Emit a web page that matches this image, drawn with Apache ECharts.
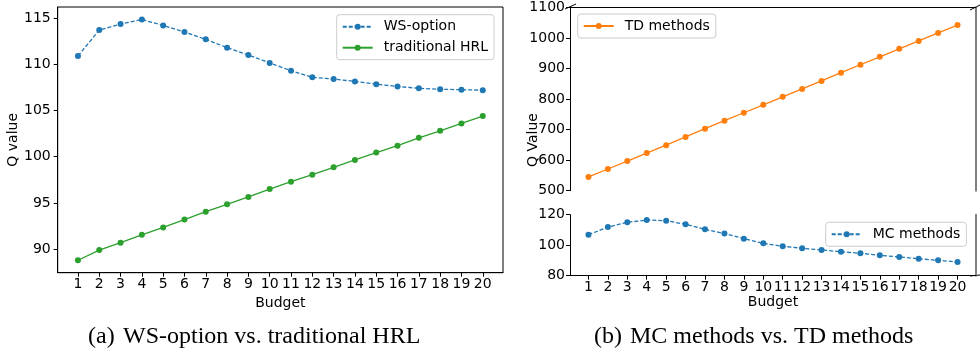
<!DOCTYPE html>
<html>
<head>
<meta charset="utf-8">
<script src="https://cdn.jsdelivr.net/npm/echarts@6/dist/echarts.min.js"></script>
<style>
  html, body { margin: 0; padding: 0; background: #fff; }
  #chart { width: 980px; height: 353px; }
</style>
</head>
<body>
<div id="chart"></div>
<script>
// budgets on the x axis (both panels)
const budgets = [1, 2, 3, 4, 5, 6, 7, 8, 9, 10, 11, 12, 13, 14, 15, 16, 17, 18, 19, 20];

// (a) WS-option vs. traditional HRL
const wsOption = [110.9, 113.7, 114.35, 114.85, 114.2, 113.5, 112.7, 111.8, 111.0, 110.15,
                  109.3, 108.6, 108.4, 108.15, 107.85, 107.6, 107.4, 107.3, 107.25, 107.2];
const tradHRL = [88.8, 89.9, 90.7, 91.55, 92.35, 93.2, 94.05, 94.85, 95.65, 96.5,
                 97.3, 98.05, 98.85, 99.65, 100.45, 101.2, 102.05, 102.8, 103.6, 104.4];
const leftTicks = [90, 95, 100, 105, 110, 115];

// (b) MC methods vs. TD methods (broken y axis)
const tdMethods = [545, 571, 597, 623, 649, 676, 703, 729, 755, 781,
                   807, 833, 859, 886, 912, 938, 964, 990, 1016, 1042];
const mcMethods = [106.9, 111.9, 115.0, 116.5, 116.1, 113.7, 110.4, 107.6, 104.3, 101.2,
                   99.3, 98.0, 96.9, 95.7, 94.7, 93.4, 92.3, 91.1, 90.1, 89.0];
const tdTicks = [500, 600, 700, 800, 900, 1000, 1100];
const mcTicks = [80, 100, 120];

const FONT = 'DejaVu Sans';
const SERIF = 'Liberation Serif';
const BLUE = '#1f77b4', ORANGE = '#ff7f0e', GREEN = '#2ca02c';

const pairs = vals => vals.map((v, i) => [budgets[i], v]);

const chart = echarts.init(document.getElementById('chart'), null, { renderer: 'canvas' });

function xAxisBase(grid, withLabels) {
    return {
        type: 'value', gridIndex: grid, min: 0.05, max: 20.95,
        axisLine: { show: true, lineStyle: { color: '#000', width: 1 } },
        axisTick: { show: withLabels, length: 4, customValues: budgets, lineStyle: { color: '#000' } },
        axisLabel: { show: withLabels, customValues: budgets, margin: 5, color: '#000',
                     fontFamily: FONT, fontSize: 14, formatter: v => String(v) },
        splitLine: { show: false }
    };
}

function yAxisBase(grid, min, max, ticks, margin) {
    return {
        type: 'value', gridIndex: grid, min: min, max: max,
        axisLine: { show: true, lineStyle: { color: '#000', width: 1 } },
        axisTick: { show: true, length: 4, customValues: ticks, lineStyle: { color: '#000' } },
        axisLabel: { customValues: ticks, margin: margin, color: '#000', fontFamily: FONT, fontSize: 14,
                     formatter: v => String(v) },
        splitLine: { show: false }
    };
}

function rightSpine(grid, min, max) {
    return {
        type: 'value', gridIndex: grid, min: min, max: max, position: 'right',
        axisLine: { show: true, lineStyle: { color: '#808080', width: 2 } },
        axisTick: { show: false }, axisLabel: { show: false }, splitLine: { show: false }
    };
}

function legendBox(names, left, top) {
    return {
        data: names, orient: 'vertical', left: left, top: top,
        padding: [4, 6, 4, 5], itemGap: 5, itemWidth: 30, itemHeight: 7.5,
        backgroundColor: 'rgba(255,255,255,0.8)', borderColor: '#cccccc', borderWidth: 1, borderRadius: 3,
        textStyle: { fontFamily: FONT, fontSize: 14, color: '#000', lineHeight: 16, padding: [0, 0, 0, 6] }
    };
}

function lineSeries(name, vals, color, dashed, xi, yi) {
    return {
        name: name, type: 'line', xAxisIndex: xi, yAxisIndex: yi,
        data: pairs(vals), symbol: 'circle', symbolSize: 6, showSymbol: true,
        itemStyle: { color: color },
        lineStyle: { color: color, width: 1.3, type: dashed ? [4, 2] : 'solid' },
        emphasis: { disabled: true }, animation: false
    };
}

const option = {
    backgroundColor: '#fff',
    animation: false,
    grid: [
        { left: 57.7, top: 7, width: 445.3, height: 265.7, show: true, borderColor: '#000', borderWidth: 1,
          outerBoundsMode: 'none' },
        { left: 570, top: 7.3, width: 406, height: 183.4, outerBoundsMode: 'none' },
        { left: 570, top: 214.7, width: 406, height: 61, outerBoundsMode: 'none' }
    ],
    xAxis: [
        Object.assign(xAxisBase(0, true), { name: 'Budget', nameLocation: 'middle', nameGap: 22,
            nameTextStyle: { fontFamily: FONT, fontSize: 14, color: '#000', verticalAlign: 'top' } }),
        Object.assign(xAxisBase(1, false), { position: 'top' }),
        Object.assign(xAxisBase(2, true), { name: 'Budget', nameLocation: 'middle', nameGap: 20,
            nameTextStyle: { fontFamily: FONT, fontSize: 14, color: '#000', verticalAlign: 'top' } })
    ],
    yAxis: [
        Object.assign(yAxisBase(0, 87.45, 116.2, leftTicks, 7), { name: 'Q value', nameLocation: 'middle',
            nameGap: 36, nameTextStyle: { fontFamily: FONT, fontSize: 14, color: '#000' } }),
        yAxisBase(1, 500, 1100, tdTicks, 5),
        rightSpine(1, 500, 1100),
        yAxisBase(2, 80, 120, mcTicks, 5),
        rightSpine(2, 80, 120)
    ],
    legend: [
        legendBox(['WS-option', 'traditional HRL'], 336.7, 14.7),
        legendBox(['TD methods'], 577.7, 14),
        legendBox(['MC methods'], 825.7, 222.3)
    ],
    series: [
        lineSeries('WS-option', wsOption, BLUE, true, 0, 0),
        lineSeries('traditional HRL', tradHRL, GREEN, false, 0, 0),
        lineSeries('TD methods', tdMethods, ORANGE, false, 1, 1),
        lineSeries('MC methods', mcMethods, BLUE, true, 2, 3)
    ],
    graphic: [
        // y label of the broken axis, centred over both panels
        { type: 'text', x: 533, y: 140, rotation: Math.PI / 2,
          style: { text: 'Q Value', fontFamily: FONT, fontSize: 14, fill: '#000', align: 'center', verticalAlign: 'middle' } },
        // break marks
        { type: 'line', shape: { x1: 565, y1: 9, x2: 576, y2: 4 }, style: { stroke: '#000', lineWidth: 1 } },
        { type: 'line', shape: { x1: 970, y1: 10, x2: 980, y2: 5 }, style: { stroke: '#000', lineWidth: 1 } },
        { type: 'line', shape: { x1: 970, y1: 276, x2: 980, y2: 275 }, style: { stroke: '#000', lineWidth: 1 } },
        // captions
        { type: 'text', x: 88, y: 337,
          style: { text: '(a)', fontFamily: SERIF, fontSize: 24, fill: '#000', align: 'left', verticalAlign: 'middle' } },
        { type: 'text', x: 123, y: 337,
          style: { text: 'WS-option vs. traditional HRL', fontFamily: SERIF, fontSize: 24, fill: '#000', align: 'left', verticalAlign: 'middle' } },
        { type: 'text', x: 594, y: 337,
          style: { text: '(b)', fontFamily: SERIF, fontSize: 24, fill: '#000', align: 'left', verticalAlign: 'middle' } },
        { type: 'text', x: 630, y: 337,
          style: { text: 'MC methods vs. TD methods', fontFamily: SERIF, fontSize: 24, fill: '#000', align: 'left', verticalAlign: 'middle' } }
    ]
};

chart.setOption(option);
window.addEventListener('resize', () => chart.resize());
</script>
</body>
</html>
